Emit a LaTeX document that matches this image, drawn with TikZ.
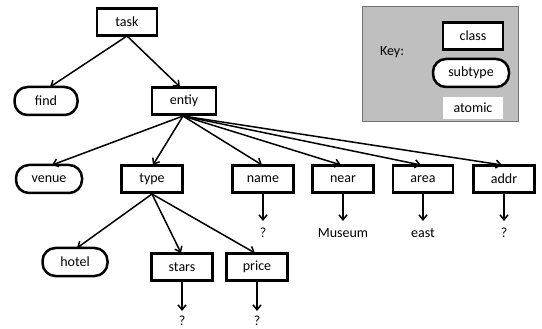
\documentclass[tikz,border=0pt]{standalone}
\usepackage{fontspec}
\setmainfont{Carlito}
\usetikzlibrary{arrows.meta}
\begin{document}
\begin{tikzpicture}[x=1pt,y=-1pt,
  font=\fontsize{14}{16}\selectfont,
  classbox/.style={draw=black,line width=2.5pt,fill=white,minimum width=60pt,minimum height=27pt,inner sep=0pt},
  subbox/.style={draw=black,line width=2.5pt,fill=white,rounded corners=13pt,minimum height=28pt,inner sep=0pt},
  atombox/.style={fill=white,minimum width=60pt,minimum height=22pt,inner sep=0pt},
  val/.style={inner sep=1pt},
  link/.style={line width=1.5pt,-{Straight Barb[length=5pt,width=8pt,line width=1.5pt]}}
]
\useasboundingbox (0,0) rectangle (542,329);

% legend panel
\node[draw=black!55,line width=1pt,fill=black!25,minimum width=156pt,minimum height=115pt,inner sep=0pt] (keypanel) at (440,64.5) {};
\node (keylabel) at (392,52) {Key:};
\node[classbox] (keyclass) at (473,36) {class};
\node[subbox,minimum width=76pt] (keysub) at (471,73) {subtype};
\node[atombox] (keyatom) at (473,108) {atomic};

% tree nodes
\node[classbox] (task) at (127,22) {task};
\node[subbox,minimum width=63pt] (find) at (46,101) {find};
\node[classbox,minimum width=64pt] (entiy) at (184,101) {entiy};

\node[subbox,minimum width=66pt] (venue) at (49,179) {venue};
\node[classbox,minimum width=61pt] (type) at (152,179) {type};
\node[classbox,minimum width=61pt] (name) at (263,179) {name};
\node[classbox,minimum width=61pt] (near) at (343,179) {near};
\node[classbox] (area) at (423,179) {area};
\node[classbox,minimum width=61pt] (addr) at (504,179) {addr};

\node[subbox,minimum width=65pt] (hotel) at (75,262) {hotel};
\node[classbox,minimum width=61pt] (stars) at (182,267) {stars};
\node[classbox,minimum width=61pt] (price) at (257,267) {price};

% atomic values
\node[val] (nameval) at (263,233) {?};
\node[val] (nearval) at (343,233) {Museum};
\node[val] (areaval) at (423,233) {east};
\node[val] (addrval) at (504,233) {?};
\node[val] (starsval) at (182,321) {?};
\node[val] (priceval) at (257,321) {?};

% connectors
\coordinate (taskb) at (127,36);
\coordinate (entiyb) at (183,116);
\coordinate (typeb) at (152,194);

\draw[link] (taskb) -- (50,87);
\draw[link] (taskb) -- (180,87);

\draw[link] (entiyb) -- (52,165);
\draw[link] (entiyb) -- (153,165);
\draw[link] (entiyb) -- (262,165);
\draw[link] (entiyb) -- (341,165);
\draw[link] (entiyb) -- (421,165);
\draw[link] (entiyb) -- (502,165);

\draw[link] (typeb) -- (77,248);
\draw[link] (typeb) -- (181,253);
\draw[link] (typeb) -- (255,253);

\draw[link] (name.south) -- (263,221);
\draw[link] (near.south) -- (343,221);
\draw[link] (area.south) -- (423,221);
\draw[link] (addr.south) -- (504,221);
\draw[link] (stars.south) -- (182,311);
\draw[link] (price.south) -- (257,311);
\end{tikzpicture}
\end{document}
